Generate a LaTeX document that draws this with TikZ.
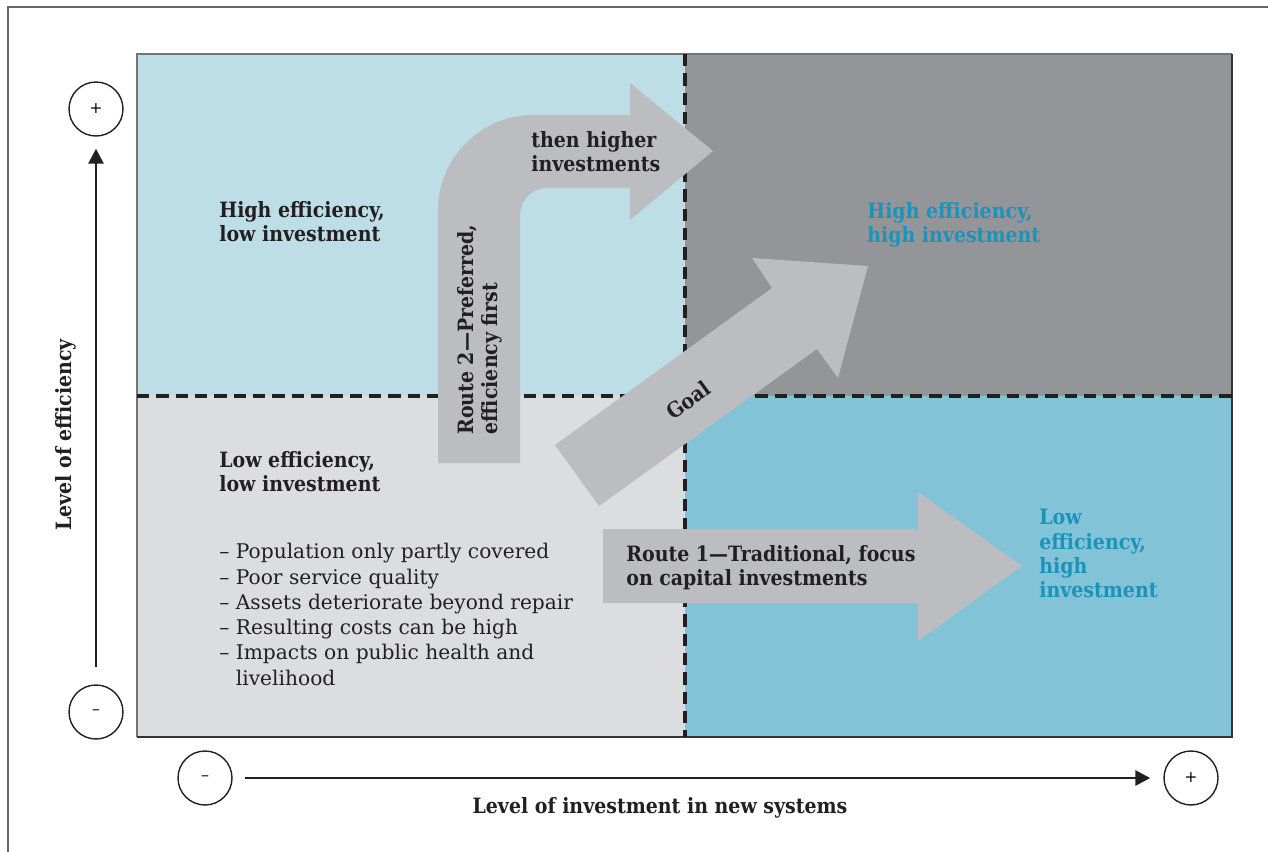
\documentclass[tikz,border=0pt]{standalone}
\usepackage{fontspec}
\setmainfont{DejaVu Serif}[BoldFont={DejaVu Serif Condensed Bold}]
\usepackage{xcolor}
\usetikzlibrary{arrows.meta}

\definecolor{ink}{HTML}{231F20}
\definecolor{hiLo}{HTML}{BDDDE7}
\definecolor{hiHi}{HTML}{939598}
\definecolor{loLo}{HTML}{DCDDDF}
\definecolor{loHi}{HTML}{82C3D8}
\definecolor{routeGrey}{HTML}{BCBDC1}
\definecolor{goalTeal}{HTML}{1B93BB}

\begin{document}
\begin{tikzpicture}[
  x=0.02cm, y=-0.02cm,
  divider/.style={draw=ink, line width=2.2pt, dash pattern=on 7pt off 4pt},
  route/.style={fill=routeGrey},
  quadtext/.style={font=\bfseries\fontsize{12}{13.9}\selectfont, text=ink, align=left, inner sep=0pt, anchor=north west},
  goaltext/.style={quadtext, text=goalTeal},
  bullets/.style={font=\fontsize{11.5}{14.4}\selectfont, text=ink, align=left, inner sep=0pt, anchor=north west},
  sign/.style={draw=ink, circle, line width=0.8pt, minimum size=1.08cm, inner sep=0pt, font=\small},
  axisarrow/.style={-{Triangle[length=3mm, width=3mm]}, line width=1.6pt, draw=ink}
]
\useasboundingbox (0,0) rectangle (1268,852);
\draw[black!60, line width=1.2pt] (8,852) -- (8,7) -- (1268,7);

% quadrants
\fill[hiLo] (137,54) rectangle (685,396);
\fill[hiHi] (685,54) rectangle (1232,396);
\fill[loLo] (137,396) rectangle (685,737);
\fill[loHi] (685,396) rectangle (1232,737);
\draw[black!55, line width=0.8pt] (137,737) -- (137,54) -- (1232,54);
\draw[black!80, line width=1pt] (1232,54) -- (1232,737) -- (137,737);
\draw[divider] (137,396) -- (1232,396);
\draw[divider] (685,54) -- (685,737);

% routes
\fill[route] (438,463) -- (438,210) .. controls (438,158) and (481,115) .. (533,115)
  -- (630,115) -- (630,83) -- (713,151) -- (630,220) -- (630,188) -- (547,188)
  .. controls (532,188) and (520,200) .. (520,215) -- (520,463) -- cycle;
\fill[route] (555,445) -- (772,288) -- (752,258) -- (868,266) -- (838,378)
  -- (817,349) -- (599,506) -- cycle;
\fill[route] (603,529) -- (918,529) -- (918,492) -- (1022,566) -- (918,641)
  -- (918,603) -- (603,603) -- cycle;

% quadrant texts
\node[quadtext] (hilo) at (219,201) {High efficiency,\\low investment};
\node[quadtext] (lolo) at (219,451) {Low efficiency,\\low investment};
\node[bullets] (issues) at (219,543) {%
  – Population only partly covered\\
  – Poor service quality\\
  – Assets deteriorate beyond repair\\
  – Resulting costs can be high\\
  – Impacts on public health and\\
  \phantom{– }livelihood};
\node[goaltext] (hihi) at (867,202) {High efficiency,\\high investment};
\node[goaltext] (lohi) at (1039,509) {Low\\efficiency,\\high\\investment};

% route labels
\node[quadtext, rotate=90] (route2) at (457,435) {Route 2—Preferred,\\efficiency first};
\node[quadtext] (then) at (531,131) {then higher\\investments};
\node[quadtext, anchor=center, rotate=36] (goal) at (688,400) {Goal};
\node[quadtext] (route1) at (626,545) {Route 1—Traditional, focus\\on capital investments};

% axes
\node[sign] (effhi) at (96,109) {+};
\node[sign] (efflo) at (96,712) {–};
\node[sign] (invlo) at (205,778) {–};
\node[sign] (invhi) at (1191,778) {+};
\draw[axisarrow, shorten <=0.34cm, shorten >=0.24cm] (efflo) -- (effhi);
\draw[axisarrow, shorten <=0.24cm, shorten >=0.26cm] (invlo) -- (invhi);
\node[quadtext, anchor=center, rotate=90] (efftitle) at (66,435) {Level of efficiency};
\node[quadtext, anchor=center] (invtitle) at (660,808) {Level of investment in new systems};
\end{tikzpicture}
\end{document}
